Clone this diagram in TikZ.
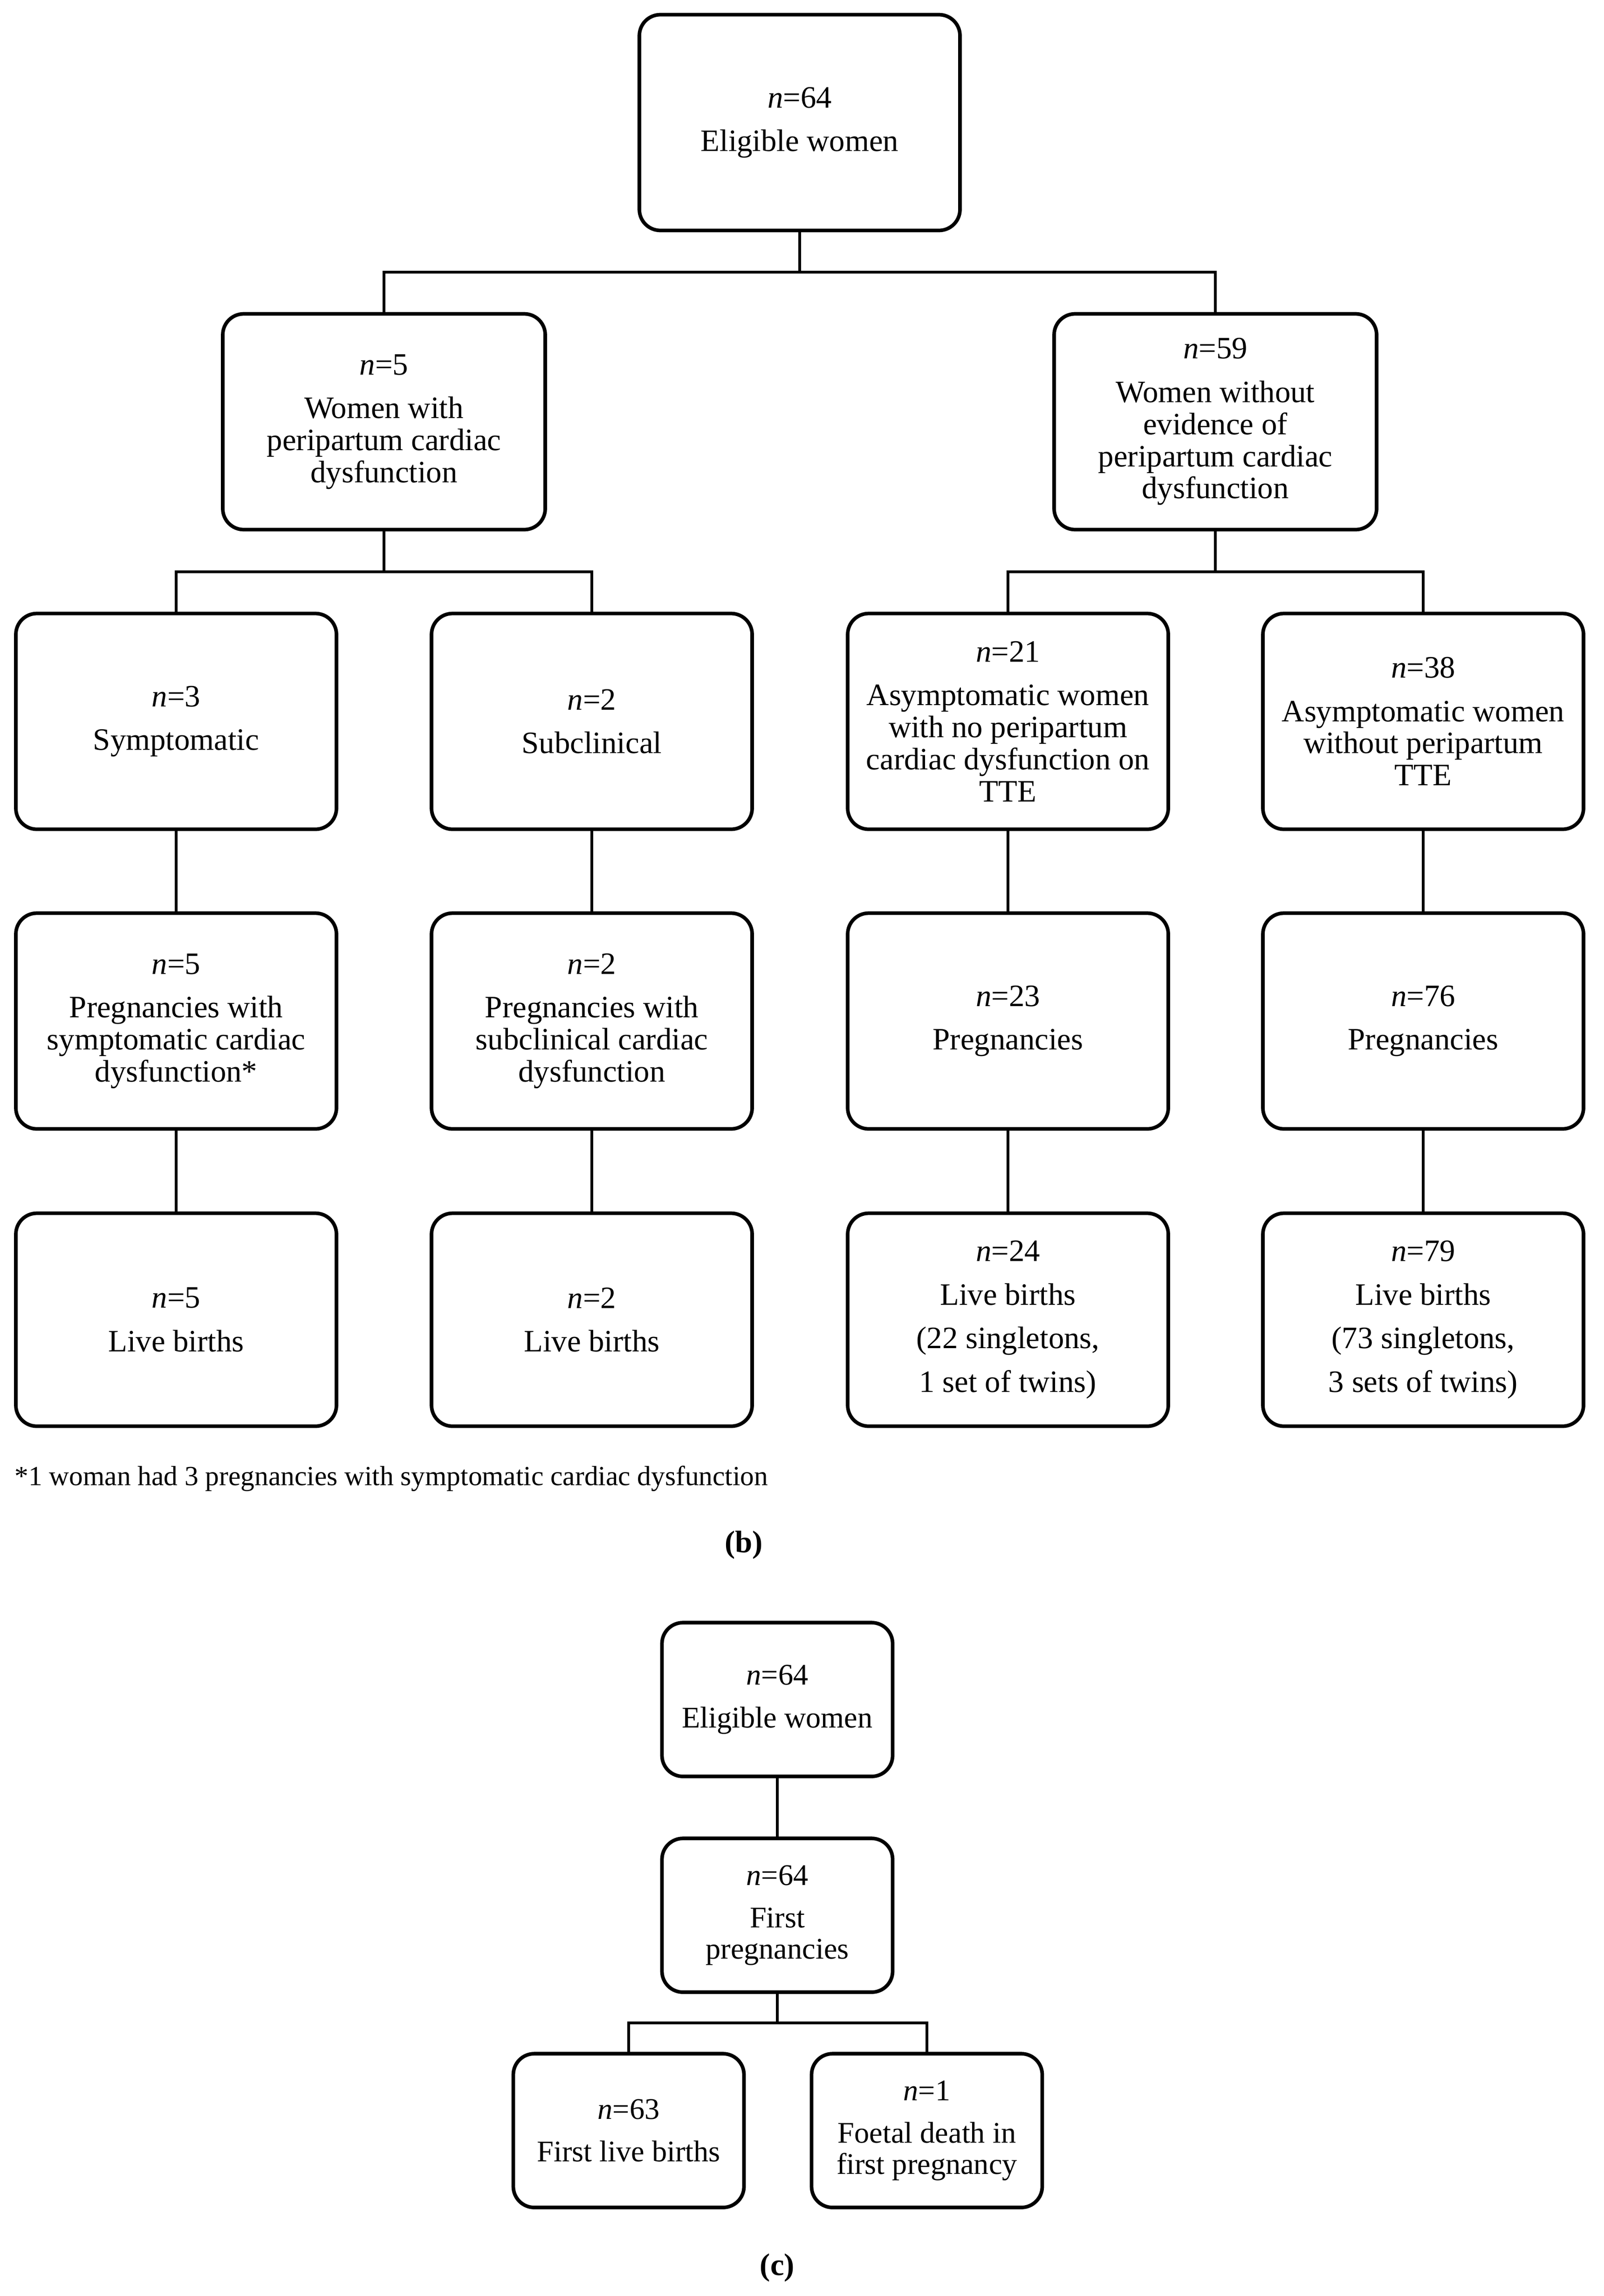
\documentclass[tikz,border=0pt]{standalone}
\usepackage{fontspec}
\setmainfont{Liberation Serif}
\begin{document}
\begin{tikzpicture}[
  box/.style={draw, line width=2.2pt, rounded corners=0.45cm, minimum width=6.88cm, minimum height=4.63cm, inner sep=0pt, align=center, font=\fontsize{19}{19.6}\selectfont},
  cbox/.style={box, minimum width=4.95cm, minimum height=3.3cm, font=\fontsize{18.3}{19}\selectfont},
  link/.style={line width=1.9pt},
  lbl/.style={font=\fontsize{19}{22}\selectfont\bfseries, inner sep=0pt},
  note/.style={font=\fontsize{16.9}{19}\selectfont, inner sep=0pt, anchor=west}
]
\useasboundingbox (0,0) rectangle (34.42,-49.27);

% panel b
\node[box] (top) at (17.16,-2.63) {\textit{n}=64\\[7pt]Eligible women};
\node[box, minimum width=6.92cm] (wa) at (8.24,-9.05) {\textit{n}=5\\[7pt]Women with\\peripartum cardiac\\dysfunction};
\node[box, minimum width=6.92cm] (wb) at (26.08,-9.05) {\textit{n}=59\\[7pt]Women without\\evidence of\\peripartum cardiac\\dysfunction};

\node[box] (s1) at (3.78,-15.48) {\textit{n}=3\\[7pt]Symptomatic};
\node[box] (s2) at (12.70,-15.48) {\textit{n}=2\\[7pt]Subclinical};
\node[box] (s3) at (21.63,-15.48) {\textit{n}=21\\[7pt]Asymptomatic women\\with no peripartum\\cardiac dysfunction on\\TTE};
\node[box] (s4) at (30.54,-15.48) {\textit{n}=38\\[7pt]Asymptomatic women\\without peripartum\\TTE};

\node[box] (p1) at (3.78,-21.91) {\textit{n}=5\\[7pt]Pregnancies with\\symptomatic cardiac\\dysfunction*};
\node[box] (p2) at (12.70,-21.91) {\textit{n}=2\\[7pt]Pregnancies with\\subclinical cardiac\\dysfunction};
\node[box] (p3) at (21.63,-21.91) {\textit{n}=23\\[7pt]Pregnancies};
\node[box] (p4) at (30.54,-21.91) {\textit{n}=76\\[7pt]Pregnancies};

\node[box, minimum height=4.57cm] (l1) at (3.78,-28.32) {\textit{n}=5\\[7pt]Live births};
\node[box, minimum height=4.57cm] (l2) at (12.70,-28.32) {\textit{n}=2\\[7pt]Live births};
\node[box, minimum height=4.57cm] (l3) at (21.63,-28.32) {\textit{n}=24\\[7pt]Live births\\[7pt](22 singletons,\\[7pt]1 set of twins)};
\node[box, minimum height=4.57cm] (l4) at (30.54,-28.32) {\textit{n}=79\\[7pt]Live births\\[7pt](73 singletons,\\[7pt]3 sets of twins)};

\coordinate (bus1) at (0,-5.84);
\coordinate (bus2) at (0,-12.27);

\draw[link] (top.south) -- (top.south |- bus1);
\draw[link] (wa.north) |- (wb.north |- bus1) -- (wb.north);
\draw[link] (wa.south) -- (wa.south |- bus2);
\draw[link] (s1.north) |- (s2.north |- bus2) -- (s2.north);
\draw[link] (wb.south) -- (wb.south |- bus2);
\draw[link] (s3.north) |- (s4.north |- bus2) -- (s4.north);
\foreach \a/\b in {s1/p1,s2/p2,s3/p3,s4/p4,p1/l1,p2/l2,p3/l3,p4/l4}
  \draw[link] (\a.south) -- (\b.north);

\node[note] (fn) at (0.31,-31.73) {*1 woman had 3 pregnancies with symptomatic cardiac dysfunction};
\node[lbl] (lb) at (15.96,-33.15) {(b)};

% panel c
\node[cbox] (c1) at (16.68,-36.47) {\textit{n}=64\\[7pt]Eligible women};
\node[cbox] (c2) at (16.68,-41.10) {\textit{n}=64\\[7pt]First\\pregnancies};
\node[cbox] (c3) at (13.49,-45.72) {\textit{n}=63\\[7pt]First live births};
\node[cbox] (c4) at (19.89,-45.72) {\textit{n}=1\\[7pt]Foetal death in\\first pregnancy};
\coordinate (bus3) at (0,-43.41);
\draw[link] (c1.south) -- (c2.north);
\draw[link] (c2.south) -- (c2.south |- bus3);
\draw[link] (c3.north) |- (c4.north |- bus3) -- (c4.north);
\node[lbl] (lc) at (16.68,-48.66) {(c)};
\end{tikzpicture}
\end{document}
